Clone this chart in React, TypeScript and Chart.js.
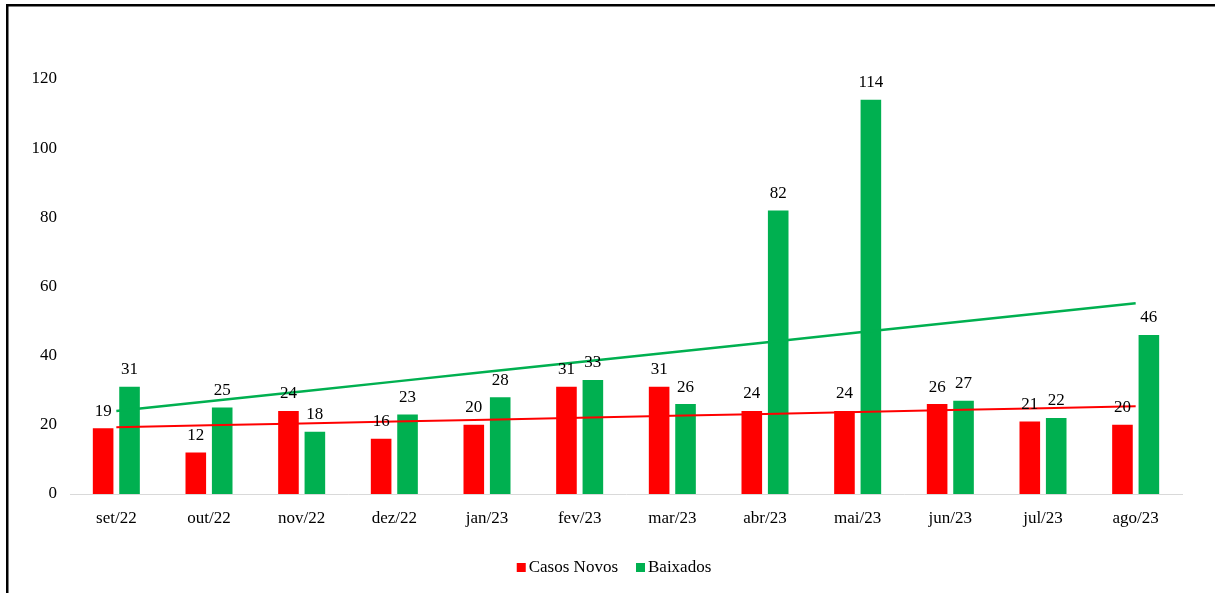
import React, { useEffect, useRef } from "react";
import { Chart, registerables } from "chart.js";

Chart.register(...registerables);

const categories = ["set/22", "out/22", "nov/22", "dez/22", "jan/23", "fev/23", "mar/23", "abr/23", "mai/23", "jun/23", "jul/23", "ago/23"];
const casosNovos = [19, 12, 24, 16, 20, 31, 31, 24, 24, 26, 21, 20];
const baixados = [31, 25, 18, 23, 28, 33, 26, 82, 114, 27, 22, 46];
const yTicks = [0, 20, 40, 60, 80, 100, 120];

const RED = "#FF0000";
const GREEN = "#00B050";
const FONT = "'Liberation Serif', 'Times New Roman', serif";

function linearTrend(values: number[]): number[] {
  const n = values.length;
  const mx = (n - 1) / 2;
  const my = values.reduce((a, b) => a + b, 0) / n;
  let sxy = 0;
  let sxx = 0;
  values.forEach((v, i) => {
    sxy += (i - mx) * (v - my);
    sxx += (i - mx) * (i - mx);
  });
  const slope = sxy / sxx;
  return values.map((_, i) => my + slope * (i - mx));
}

const framePlugin = {
  id: "frame",
  beforeDraw(chart: any) {
    const ctx = chart.ctx;
    ctx.save();
    ctx.fillStyle = "#ffffff";
    ctx.fillRect(0, 0, chart.width, chart.height);
    ctx.fillStyle = "#000000";
    ctx.fillRect(6, 4, chart.width - 6, 2.5);
    ctx.fillRect(6, 4, 2.5, chart.height - 4);
    ctx.restore();
  },
};

const labelPlugin = {
  id: "barLabels",
  afterDraw(chart: any) {
    const ctx = chart.ctx;
    ctx.save();
    ctx.font = `17px ${FONT}`;
    ctx.fillStyle = "#000000";
    ctx.textAlign = "center";
    ctx.textBaseline = "middle";
    [0, 1].forEach((di) => {
      const meta = chart.getDatasetMeta(di);
      const data = chart.data.datasets[di].data as number[];
      meta.data.forEach((el: any, i: number) => {
        ctx.fillText(String(data[i]), el.x, el.y - 17);
      });
    });
    ctx.restore();
  },
};

const legendPlugin = {
  id: "customLegend",
  afterDraw(chart: any) {
    const ctx = chart.ctx;
    ctx.save();
    ctx.font = `17px ${FONT}`;
    ctx.textBaseline = "middle";
    ctx.textAlign = "left";
    const items = [0, 1].map((di) => ({
      text: chart.data.datasets[di].label as string,
      color: chart.data.datasets[di].backgroundColor as string,
    }));
    const box = 9;
    const gap = 3;
    const spacing = 18;
    const widths = items.map((it) => box + gap + ctx.measureText(it.text).width);
    const total = widths.reduce((a, b) => a + b, 0) + spacing * (items.length - 1);
    let x = 614 - total / 2;
    const cy = 567.5;
    items.forEach((it, i) => {
      ctx.fillStyle = it.color;
      ctx.fillRect(x, cy - box / 2, box, box);
      ctx.fillStyle = "#000000";
      ctx.fillText(it.text, x + box + gap, cy);
      x += widths[i] + spacing;
    });
    ctx.restore();
  },
};

export default function App() {
  const ref = useRef<HTMLCanvasElement | null>(null);

  useEffect(() => {
    if (!ref.current) return;
    const chart = new Chart(ref.current, {
      type: "bar",
      data: {
        labels: categories,
        datasets: [
          {
            type: "bar",
            label: "Casos Novos",
            data: casosNovos,
            backgroundColor: RED,
            borderWidth: 0,
            categoryPercentage: 0.57,
            barPercentage: 0.78,
          },
          {
            type: "bar",
            label: "Baixados",
            data: baixados,
            backgroundColor: GREEN,
            borderWidth: 0,
            categoryPercentage: 0.57,
            barPercentage: 0.78,
          },
          {
            type: "line",
            label: "Tendência Casos Novos",
            data: linearTrend(casosNovos),
            borderColor: RED,
            borderWidth: 2,
            pointRadius: 0,
            fill: false,
            order: -1,
          } as any,
          {
            type: "line",
            label: "Tendência Baixados",
            data: linearTrend(baixados),
            borderColor: GREEN,
            borderWidth: 2.5,
            pointRadius: 0,
            fill: false,
            order: -1,
          } as any,
        ],
      },
      options: {
        responsive: false,
        animation: false,
        layout: { padding: { left: 0, top: 79, right: 33, bottom: 44 } },
        plugins: {
          tooltip: { enabled: false },
          legend: { display: false },
        },
        scales: {
          x: {
            grid: { display: false, drawTicks: false },
            border: { display: true, color: "#d9d9d9", width: 1 },
            ticks: { font: { family: FONT, size: 17 }, color: "#000000", padding: 14 },
            afterFit: (axis: any) => {
              axis.height = 55;
            },
          },
          y: {
            min: 0,
            max: 120,
            grid: { display: false, drawTicks: false },
            border: { display: false },
            afterBuildTicks: (axis: any) => {
              axis.ticks = yTicks.map((v) => ({ value: v }));
            },
            ticks: { font: { family: FONT, size: 17 }, color: "#000000", padding: 13 },
            afterFit: (axis: any) => {
              axis.width = 70;
            },
          },
        },
      },
      plugins: [framePlugin, labelPlugin, legendPlugin],
    });
    return () => chart.destroy();
  }, []);

  return (
    <div style={{ position: "absolute", left: 0, top: 0, width: 1215, height: 593 }}>
      <canvas ref={ref} width={1215} height={593} style={{ width: 1215, height: 593, display: "block" }} />
    </div>
  );
}
